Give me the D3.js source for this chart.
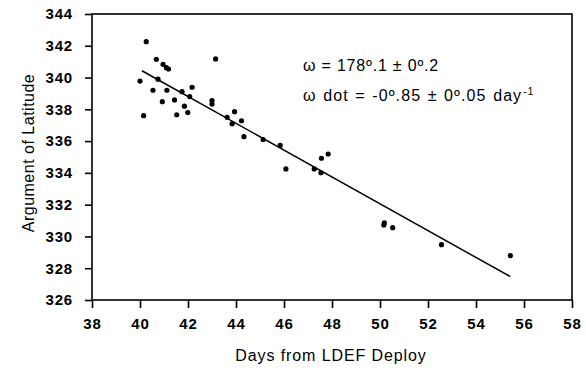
<!DOCTYPE html>
<html>
<head>
<meta charset="utf-8">
<script src="https://cdn.jsdelivr.net/npm/d3@7"></script>
<style>
  html, body { margin: 0; padding: 0; background: #fff; }
  svg { display: block; }
  text { font-family: "Liberation Sans", Arial, Helvetica, sans-serif; fill: #000; }
</style>
</head>
<body>
<svg id="chart" width="586" height="374"></svg>
<script>
// Observations (days from LDEF deploy, argument of latitude in degrees)
const days = [40.00, 40.26, 40.15, 40.68, 40.75, 40.54, 40.93, 40.96, 41.10, 41.19,
              41.12, 41.44, 41.53, 41.75, 41.85, 41.99, 42.07, 42.17, 43.00, 43.00,
              43.15, 43.63, 43.84, 43.94, 44.23, 44.33, 45.13, 45.84, 46.08, 47.26,
              47.54, 47.56, 47.84, 50.16, 50.18, 50.53, 52.56, 55.43];
const argLat = [339.78, 342.26, 337.60, 341.15, 339.90, 339.20, 338.48, 340.83, 340.62, 340.54,
                339.20, 338.59, 337.66, 339.11, 338.20, 337.80, 338.80, 339.39, 338.55, 338.33,
                341.17, 337.50, 337.10, 337.85, 337.28, 336.28, 336.10, 335.73, 334.25, 334.25,
                334.01, 334.92, 335.19, 330.72, 330.85, 330.55, 329.48, 328.79];
// Fitted line endpoints
const fitDays = [40.08, 55.43];
const fitValues = [340.43, 327.47];
// Tick values
const xTicks = [38, 40, 42, 44, 46, 48, 50, 52, 54, 56, 58];
const yTicks = [326, 328, 330, 332, 334, 336, 338, 340, 342, 344];
const xTitle = "Days from LDEF Deploy";
const yTitle = "Argument of Latitude";
const annotLine1 = "ω = 178º.1 ± 0º.2";
const annotLine2a = "ω dot = -0º.85 ± 0º.05 day";
const annotLine2sup = "-1";

const svg = d3.select("#chart");
const L = 92, R = 572, T = 14, B = 300;
const x = d3.scaleLinear().domain([38, 58]).range([L, R]);
const y = d3.scaleLinear().domain([326, 344]).range([B, T]);

// frame
svg.append("rect").attr("x", L).attr("y", T).attr("width", R - L).attr("height", B - T)
  .attr("fill", "none").attr("stroke", "#000").attr("stroke-width", 1.6);

// x axis
const xAxis = svg.append("g").attr("transform", `translate(0,${B})`)
  .call(d3.axisBottom(x).tickValues(xTicks).tickFormat(d3.format("d")).tickSize(8).tickPadding(10));
xAxis.select(".domain").remove();
xAxis.selectAll("line").attr("stroke", "#000").attr("stroke-width", 1.6);
xAxis.selectAll("text").attr("font-size", 15).attr("font-weight", "bold").attr("letter-spacing", 0.8);

// y axis
const yAxis = svg.append("g").attr("transform", `translate(${L},0)`)
  .call(d3.axisLeft(y).tickValues(yTicks).tickFormat(d3.format("d")).tickSize(7).tickPadding(12));
yAxis.select(".domain").remove();
yAxis.selectAll("line").attr("stroke", "#000").attr("stroke-width", 1.6);
yAxis.selectAll("text").attr("font-size", 15).attr("font-weight", "bold").attr("letter-spacing", 0.8);

// fit line
svg.append("line")
  .attr("x1", x(fitDays[0])).attr("y1", y(fitValues[0]))
  .attr("x2", x(fitDays[1])).attr("y2", y(fitValues[1]))
  .attr("stroke", "#000").attr("stroke-width", 1.5);

// points
svg.append("g").selectAll("circle").data(days).join("circle")
  .attr("cx", d => x(d)).attr("cy", (d, i) => y(argLat[i])).attr("r", 2.6).attr("fill", "#000");

// titles
svg.append("text").attr("x", (L + R) / 2 - 1).attr("y", 361).attr("text-anchor", "middle")
  .attr("font-size", 16).attr("letter-spacing", 0.9).text(xTitle);
svg.append("text").attr("transform", "translate(34,153) rotate(-90)").attr("text-anchor", "middle")
  .attr("font-size", 16).attr("letter-spacing", 0.5).text(yTitle);

// annotation
svg.append("text").attr("x", 303).attr("y", 71).attr("font-size", 16).attr("letter-spacing", 0.8).text(annotLine1);
const t2 = svg.append("text").attr("x", 303).attr("y", 101).attr("font-size", 16)
  .attr("letter-spacing", 1.1).attr("word-spacing", 1);
t2.append("tspan").text(annotLine2a);
t2.append("tspan").attr("font-size", 10).attr("dy", -6).attr("dx", 1).text(annotLine2sup);
</script>
</body>
</html>
